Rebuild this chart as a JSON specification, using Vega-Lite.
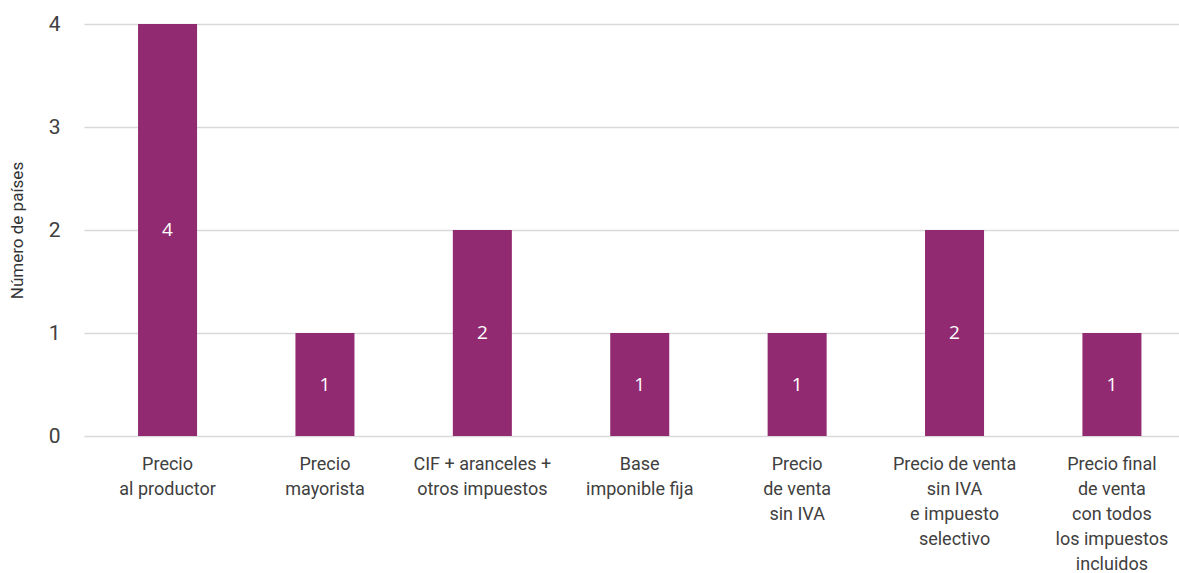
{
  "$schema": "https://vega.github.io/schema/vega-lite/v6.json",
  "width": 1095,
  "height": 412,
  "autosize": "none",
  "padding": {"left": 84, "top": 24, "right": 0, "bottom": 137},
  "background": "white",
  "config": {"view": {"stroke": null}, "font": "Roboto"},
  "data": {
    "values": [
      {"cat": "Precio|al productor", "n": 4},
      {"cat": "Precio|mayorista", "n": 1},
      {"cat": "CIF + aranceles +|otros impuestos", "n": 2},
      {"cat": "Base|imponible fija", "n": 1},
      {"cat": "Precio|de venta|sin IVA", "n": 1},
      {"cat": "Precio de venta|sin IVA|e impuesto|selectivo", "n": 2},
      {"cat": "Precio final|de venta|con todos|los impuestos|incluidos", "n": 1}
    ]
  },
  "transform": [{"calculate": "datum.n / 2", "as": "mid"}],
  "encoding": {
    "x": {
      "field": "cat", "type": "nominal", "sort": null,
      "scale": {"paddingInner": 0.625, "paddingOuter": 0.291, "align": 0.59},
      "axis": {
        "title": null, "labelAngle": 0, "labelLimit": 0, "ticks": false, "domain": false,
        "labelExpr": "split(datum.label, '|')", "labelLineHeight": 25,
        "labelFontSize": 18, "labelColor": "#404040", "labelPadding": 19,
        "labelBaseline": "top", "labelFont": "Roboto"
      }
    }
  },
  "layer": [
    {
      "mark": {"type": "bar", "color": "#922a72"},
      "encoding": {
        "y": {
          "field": "n", "type": "quantitative",
          "scale": {"domain": [0, 4]},
          "axis": {
            "title": "Número de países", "titleFontSize": 17, "titleFontWeight": "normal",
            "titleColor": "#333333", "titlePadding": 22, "titleFont": "Roboto",
            "values": [0, 1, 2, 3, 4], "format": "d",
            "labelFontSize": 21, "labelColor": "#404040", "labelPadding": 24,
            "ticks": false, "domain": false,
            "gridColor": "#d9d9d9", "gridWidth": 1.5
          }
        }
      }
    },
    {
      "mark": {"type": "text", "color": "white", "font": "Open Sans", "fontSize": 19, "baseline": "middle"},
      "encoding": {
        "y": {"field": "mid", "type": "quantitative"},
        "text": {"field": "n", "type": "quantitative"}
      }
    }
  ]
}
